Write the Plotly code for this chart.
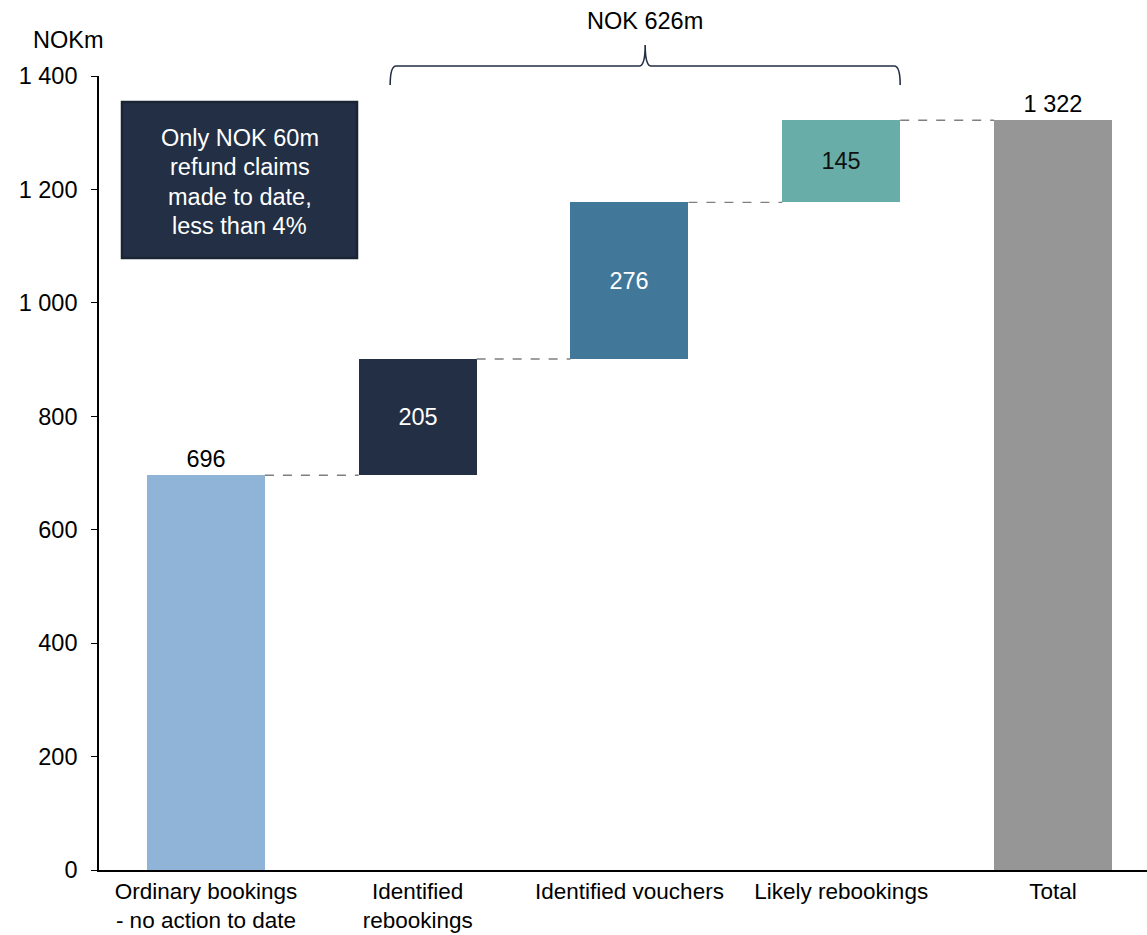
import plotly.graph_objects as go

# Waterfall components (NOK million)
categories = ["Ordinary bookings<br>- no action to date", "Identified<br>rebookings",
              "Identified vouchers", "Likely rebookings", "Total"]
steps = [696, 205, 276, 145]
total = sum(steps)
bar_colors = ["#8FB4D8", "#232F44", "#417799", "#68ADA8", "#969696"]
text_colors = ["#000000", "#FFFFFF", "#FFFFFF", "#111111", "#000000"]
y_ticks = [0, 200, 400, 600, 800, 1000, 1200, 1400]
note_lines = ["Only NOK 60m", "refund claims", "made to date,", "less than 4%"]
bracket_label = "NOK 626m"

FONT = "Liberation Sans, Arial, sans-serif"
FS = 23.5
W, H = 1147, 935
ML, MR, MT, MB = 99, 0, 76, 65
X_RANGE = [-0.505, 4.444]
BAR_W = 0.557

values = steps + [total]
bases, running = [], 0
for v in steps:
    bases.append(running)
    running += v
bases.append(0)

def fmt(v):
    return f"{v:,}".replace(",", " ")

xs = list(range(len(categories)))
positions = ["outside", "inside", "inside", "inside", "outside"]

fig = go.Figure()
fig.add_trace(go.Bar(
    x=xs, y=values, base=bases, width=BAR_W,
    marker=dict(color=bar_colors, line=dict(width=0)),
    text=[fmt(v) for v in values], textposition=positions,
    insidetextanchor="middle", constraintext="none",
    textfont=dict(family=FONT, size=FS, color=text_colors),
    outsidetextfont=dict(family=FONT, size=FS, color="#000000"),
    cliponaxis=False, hoverinfo="skip",
))

# dashed connectors between consecutive bars
tops = [b + v for b, v in zip(bases[:-1], steps)]
for i, top in enumerate(tops):
    fig.add_shape(type="line", xref="x", yref="y",
                  x0=i + BAR_W / 2, x1=i + 1 - BAR_W / 2, y0=top, y1=top,
                  line=dict(color="#7F7F7F", width=1.3, dash="dash"))

plot_w = W - ML - MR
plot_h = H - MT - MB

def px_x(xd):
    return (xd - X_RANGE[0]) / (X_RANGE[1] - X_RANGE[0])

def px_y(pix):
    # pixel row -> paper y
    return (H - MB - pix) / plot_h

def paper_x(pix):
    return (pix - ML) / plot_w

# brace over the three additions
bx0 = px_x(1 - 0.13)
bx1 = px_x(3 + BAR_W / 2)
bxc = (bx0 + bx1) / 2
yt, yb, yp = px_y(66), px_y(85), px_y(45)
dx = 6 / plot_w
path = (f"M {bx0},{yb} Q {bx0},{yt} {bx0 + dx},{yt} "
        f"L {bxc - dx},{yt} Q {bxc},{yt} {bxc},{yp} "
        f"Q {bxc},{yt} {bxc + dx},{yt} "
        f"L {bx1 - dx},{yt} Q {bx1},{yt} {bx1},{yb}")
fig.add_shape(type="path", xref="paper", yref="paper", path=path,
              line=dict(color="#232F44", width=1.6))
fig.add_annotation(xref="paper", yref="paper", x=bxc, y=px_y(21),
                   xanchor="center", yanchor="middle",
                   text=bracket_label, showarrow=False,
                   font=dict(family=FONT, size=FS, color="#000000"))

# note box
fig.add_shape(type="rect", xref="paper", yref="paper",
              x0=paper_x(122), x1=paper_x(357), y0=px_y(258), y1=px_y(102),
              fillcolor="#232F44", line=dict(color="#1B2434", width=2.5))
for k, line in enumerate(note_lines):
    fig.add_annotation(xref="paper", yref="paper", x=paper_x(239.5),
                       y=px_y(138 + 29.3 * k), xanchor="center", yanchor="middle",
                       text=line, showarrow=False,
                       font=dict(family=FONT, size=FS, color="#FFFFFF"))

# unit label
fig.add_annotation(xref="paper", yref="paper", x=paper_x(68.5), y=px_y(40),
                   xanchor="center", yanchor="middle",
                   text="NOKm", showarrow=False,
                   font=dict(family=FONT, size=FS, color="#000000"))

fig.update_layout(
    width=W, height=H, margin=dict(l=ML, r=MR, t=MT, b=MB, autoexpand=False),
    plot_bgcolor="#FFFFFF", paper_bgcolor="#FFFFFF",
    showlegend=False, separators=". ",
    font=dict(family=FONT, size=FS, color="#000000"),
    bargap=0,
)
fig.update_xaxes(range=X_RANGE, tickmode="array", tickvals=xs, ticktext=categories,
                 showline=True, linecolor="#000000", linewidth=1.6,
                 showgrid=False, zeroline=False, ticks="", ticklabelstandoff=0,
                 automargin=False,
                 tickfont=dict(family=FONT, size=22.5, color="#000000"))
fig.update_yaxes(range=[0, 1400], tickmode="array", tickvals=y_ticks,
                 ticktext=[fmt(v) for v in y_ticks],
                 showline=True, linecolor="#000000", linewidth=1.6,
                 ticks="outside", ticklen=6, tickcolor="#000000", tickwidth=1.4,
                 ticklabelstandoff=9, automargin=False,
                 showgrid=False, zeroline=False,
                 tickfont=dict(family=FONT, size=FS, color="#000000"))

fig.write_html("out.html")
